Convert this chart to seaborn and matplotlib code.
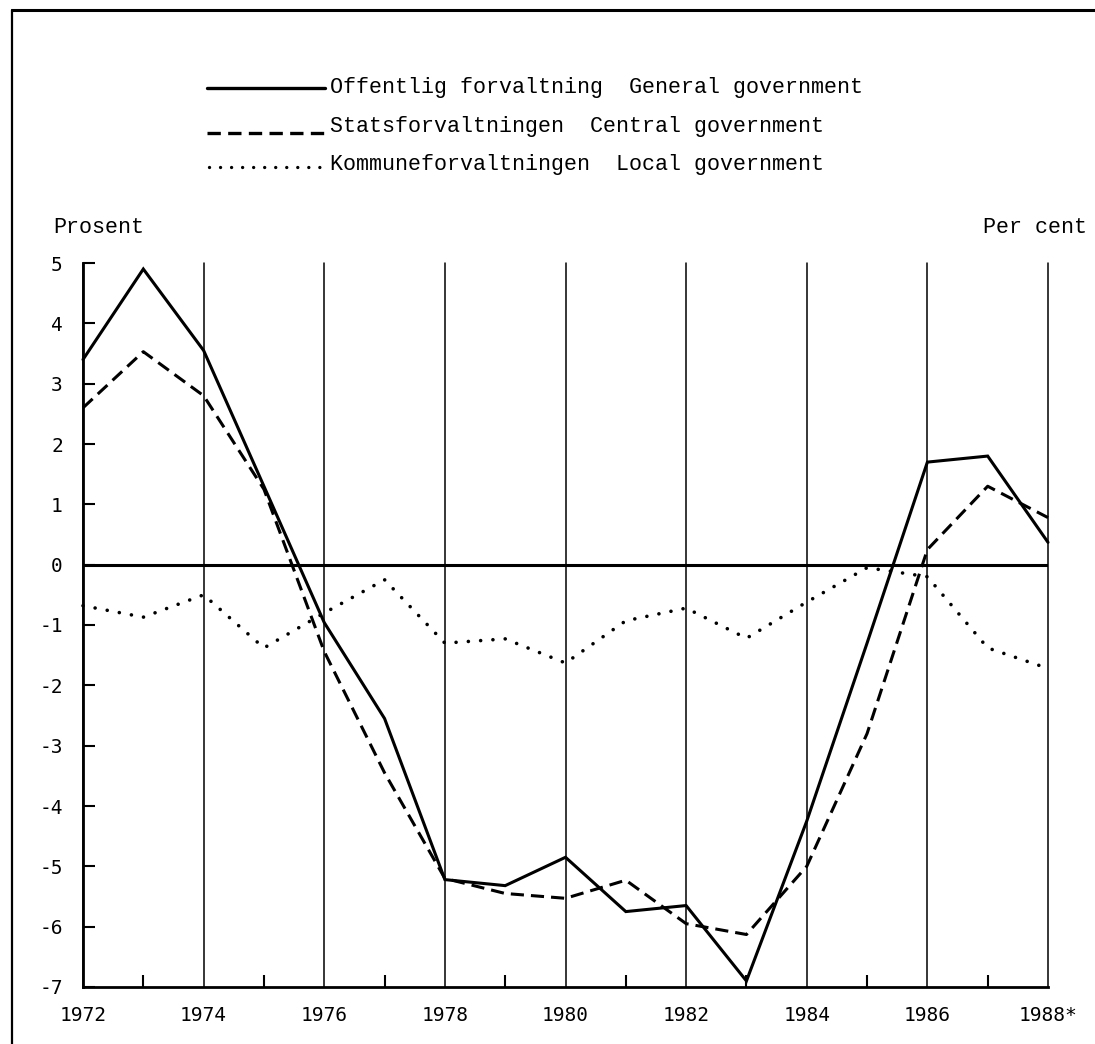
import matplotlib
matplotlib.use("Agg")
import matplotlib.pyplot as plt
import numpy as np
import pandas as pd
import seaborn as sns
from matplotlib.lines import Line2D

# ---------------- data ----------------
years = list(range(1972, 1989))
general = [3.4, 4.9, 3.55, 1.3, -0.96, -2.55, -5.22, -5.32, -4.85, -5.75, -5.65, -6.9,
           -4.25, -1.3, 1.7, 1.8, 0.37]
central = [2.6, 3.53, 2.8, 1.25, -1.44, -3.45, -5.2, -5.45, -5.53, -5.23, -5.95, -6.13,
           -5.0, -2.8, 0.25, 1.3, 0.78]
local = [-0.68, -0.87, -0.5, -1.38, -0.8, -0.25, -1.3, -1.23, -1.63, -0.93, -0.72, -1.22,
         -0.62, -0.05, -0.2, -1.38, -1.72]

x_major = list(range(1972, 1989, 2))
x_labels = ["1972", "1974", "1976", "1978", "1980", "1982", "1984", "1986", "1988*"]
x_minor = list(range(1973, 1988, 2))
y_ticks = list(range(-7, 6))
y_labels = [str(v) for v in y_ticks]

legend_labels = ["Offentlig forvaltning  General government",
                 "Statsforvaltningen  Central government",
                 "Kommuneforvaltningen  Local government"]
left_unit = "Prosent"
right_unit = "Per cent"

# ---------------- style ----------------
sns.set_theme(style="white")
plt.rcParams["font.family"] = ["DejaVu Sans Mono"]
plt.rcParams["axes.unicode_minus"] = False

FIG_W, FIG_H = 1095, 1044
fig = plt.figure(figsize=(FIG_W / 100, FIG_H / 100), dpi=100)
fig.patch.set_facecolor("white")


def fx(px):
    return px / FIG_W


def fy(py):
    return 1 - py / FIG_H


ax = fig.add_axes([fx(83), fy(987), fx(1048) - fx(83), fy(263) - fy(987)])
ax.set_facecolor("white")

df = pd.DataFrame({"year": years, "general": general, "central": central, "local": local})

LW = 2.2
sns.lineplot(data=df, x="year", y="general", color="black", lw=LW, ax=ax,
             clip_on=False, solid_joinstyle="miter")
sns.lineplot(data=df, x="year", y="central", color="black", lw=LW, ax=ax,
             linestyle=(0, (4.3, 2.3)), clip_on=False)
sns.lineplot(data=df, x="year", y="local", color="black", lw=2.6, ax=ax,
             linestyle=(0, (0.01, 3.4)), dash_capstyle="round", clip_on=False)

ax.set_xlim(1972, 1988)
ax.set_ylim(-7, 5)
ax.set_xlabel("")
ax.set_ylabel("")

for s in ["top", "right"]:
    ax.spines[s].set_visible(False)
for s in ["left", "bottom"]:
    ax.spines[s].set_color("black")
    ax.spines[s].set_linewidth(2.0)

ax.set_xticks(x_major)
ax.set_xticklabels(x_labels)
ax.set_xticks(x_minor, minor=True)
ax.set_yticks(y_ticks)
ax.set_yticklabels(y_labels)

ax.tick_params(axis="x", which="major", length=0, pad=13.5, labelsize=14, colors="black")
ax.tick_params(axis="x", which="minor", direction="in", length=8.6, width=1.5,
               color="black", bottom=True)
ax.tick_params(axis="y", which="major", direction="in", length=8.6, width=1.5,
               color="black", pad=14.5, labelsize=14, left=True, labelcolor="black")

ax.grid(False)
ax.grid(axis="x", which="major", color="black", lw=1.1)
for gl in ax.get_xgridlines():
    gl.set_clip_on(False)
ax.axhline(0, color="black", lw=2.2, zorder=1.5)

# ---------------- legend (drawn by hand) ----------------
TXT = dict(family=["Liberation Mono", "DejaVu Sans Mono"], fontsize=15.6, color="black")
fig.add_artist(Line2D([fx(207), fx(325)], [fy(88), fy(88)], color="black", lw=2.4,
                      transform=fig.transFigure))
fig.add_artist(Line2D([fx(207), fx(327)], [fy(133), fy(133)], color="black", lw=2.4,
                      linestyle=(0, (4.0, 2.2)), transform=fig.transFigure))
fig.add_artist(Line2D([fx(209), fx(327)], [fy(167), fy(167)], color="black", lw=2.4,
                      linestyle=(0, (0.01, 3.3)), dash_capstyle="round",
                      transform=fig.transFigure))
for lab, yb in zip(legend_labels, [93, 132, 170]):
    fig.text(fx(330), fy(yb), lab, ha="left", va="baseline", **TXT)

fig.text(fx(53), fy(233), left_unit, ha="left", va="baseline", **TXT)
fig.text(fx(1087), fy(233), right_unit, ha="right", va="baseline", **TXT)

# ---------------- page frame (top and left) ----------------
fig.add_artist(Line2D([fx(12), 1.0], [fy(10), fy(10)], color="black", lw=2.2,
                      transform=fig.transFigure))
fig.add_artist(Line2D([fx(12), fx(12)], [fy(10), 0.0], color="black", lw=1.6,
                      transform=fig.transFigure))

fig.savefig("out.png", dpi=100)
